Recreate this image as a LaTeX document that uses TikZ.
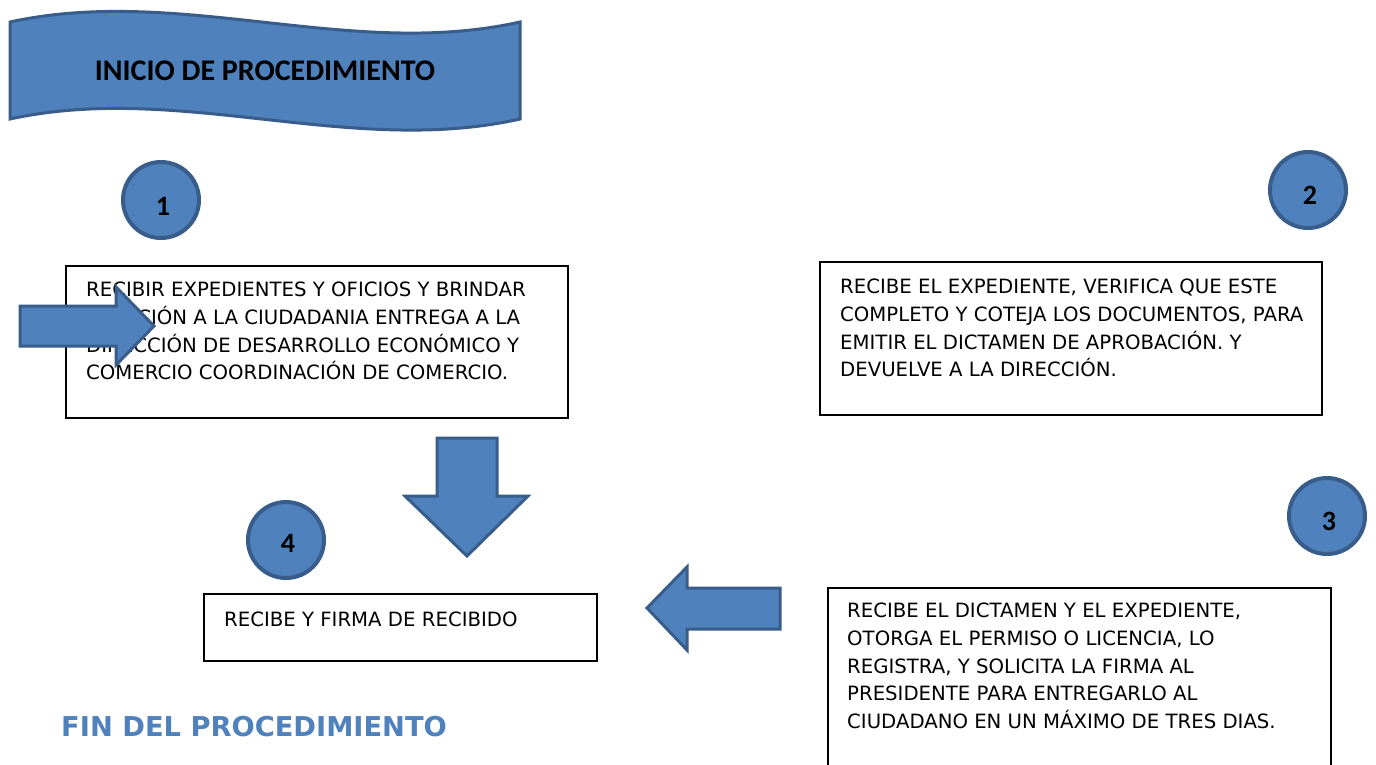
\documentclass[tikz,border=0pt]{standalone}
\usepackage{fontspec}
\setmainfont{DejaVu Sans}
\newfontfamily\calib{Carlito}
\definecolor{fillblue}{HTML}{4F81BD}
\definecolor{edgeblue}{HTML}{385D8A}
\begin{document}
\begin{tikzpicture}[x=1pt,y=-1pt,
  blk/.style={fill=fillblue, draw=edgeblue, line width=3pt, line join=miter},
  stepbox/.style={draw=black, line width=1.6pt, fill=white, anchor=north west, inner sep=0},
  boxtext/.style={anchor=north west, inner sep=0, align=left, font=\fontsize{19.7}{27.7}\selectfont},
  num/.style={circle, fill=fillblue, draw=edgeblue, line width=4pt, minimum size=76pt, inner sep=0},
  numtxt/.style={inner sep=0, font=\calib\bfseries\fontsize{28}{28}\selectfont}
]
\clip (0,0) rectangle (1376,764);
\fill[white] (0,0) rectangle (1376,764);

% banner
\draw[blk] (10,22) .. controls (180,-15) and (350,60) .. (520,22) -- (520,119)
  .. controls (350,157) and (180,82) .. (10,119) -- cycle;
\node[inner sep=0, font=\calib\bfseries\fontsize{30}{30}\selectfont] (start) at (265,71) {INICIO DE PROCEDIMIENTO};

% circles
\node[num] (c1) at (161,200) {};
\node[numtxt] (n1) at (163,206) {1};
\node[num] (c2) at (1308,190) {};
\node[numtxt] (n2) at (1310,195) {2};
\node[num] (c3) at (1327,516) {};
\node[numtxt] (n3) at (1329,521) {3};
\node[num] (c4) at (286,540) {};
\node[numtxt] (n4) at (288,543) {4};

% boxes
\node[stepbox, minimum width=502pt, minimum height=152pt] (b1) at (65,265) {};
\node[boxtext] (t1) at (86,282) {RECIBIR EXPEDIENTES Y OFICIOS Y BRINDAR\\ATENCIÓN A LA CIUDADANIA ENTREGA A LA\\DIRECCIÓN DE DESARROLLO ECONÓMICO Y\\COMERCIO COORDINACIÓN DE COMERCIO.};

\node[stepbox, minimum width=502pt, minimum height=153pt] (b2) at (819,261) {};
\node[boxtext] (t2) at (840,279) {RECIBE EL EXPEDIENTE, VERIFICA QUE ESTE\\COMPLETO Y COTEJA LOS DOCUMENTOS, PARA\\EMITIR EL DICTAMEN DE APROBACIÓN. Y\\DEVUELVE A LA DIRECCIÓN.};

\node[stepbox, minimum width=503pt, minimum height=190pt] (b3) at (827,587) {};
\node[boxtext] (t3) at (847,603) {RECIBE EL DICTAMEN Y EL EXPEDIENTE,\\OTORGA EL PERMISO O LICENCIA, LO\\REGISTRA, Y SOLICITA LA FIRMA AL\\PRESIDENTE PARA ENTREGARLO AL\\CIUDADANO EN UN MÁXIMO DE TRES DIAS.};

\node[stepbox, minimum width=393pt, minimum height=67pt] (b4) at (203,593) {};
\node[boxtext] (t4) at (224,612) {RECIBE Y FIRMA DE RECIBIDO};

% block arrows
\draw[blk] (20,306) -- (116,306) -- (116,287) -- (154,326) -- (116,365) -- (116,346) -- (20,346) -- cycle;
\draw[blk] (437,438) -- (497,438) -- (497,496) -- (528,496) -- (467,556) -- (405,496) -- (437,496) -- cycle;
\draw[blk] (780,588) -- (687,588) -- (687,567) -- (647,608) -- (687,650) -- (687,629) -- (780,629) -- cycle;

% end text
\node[inner sep=0, anchor=west, text=fillblue, font=\bfseries\fontsize{27.3}{27.3}\selectfont] (fin) at (61,727) {FIN DEL PROCEDIMIENTO};
\end{tikzpicture}
\end{document}
